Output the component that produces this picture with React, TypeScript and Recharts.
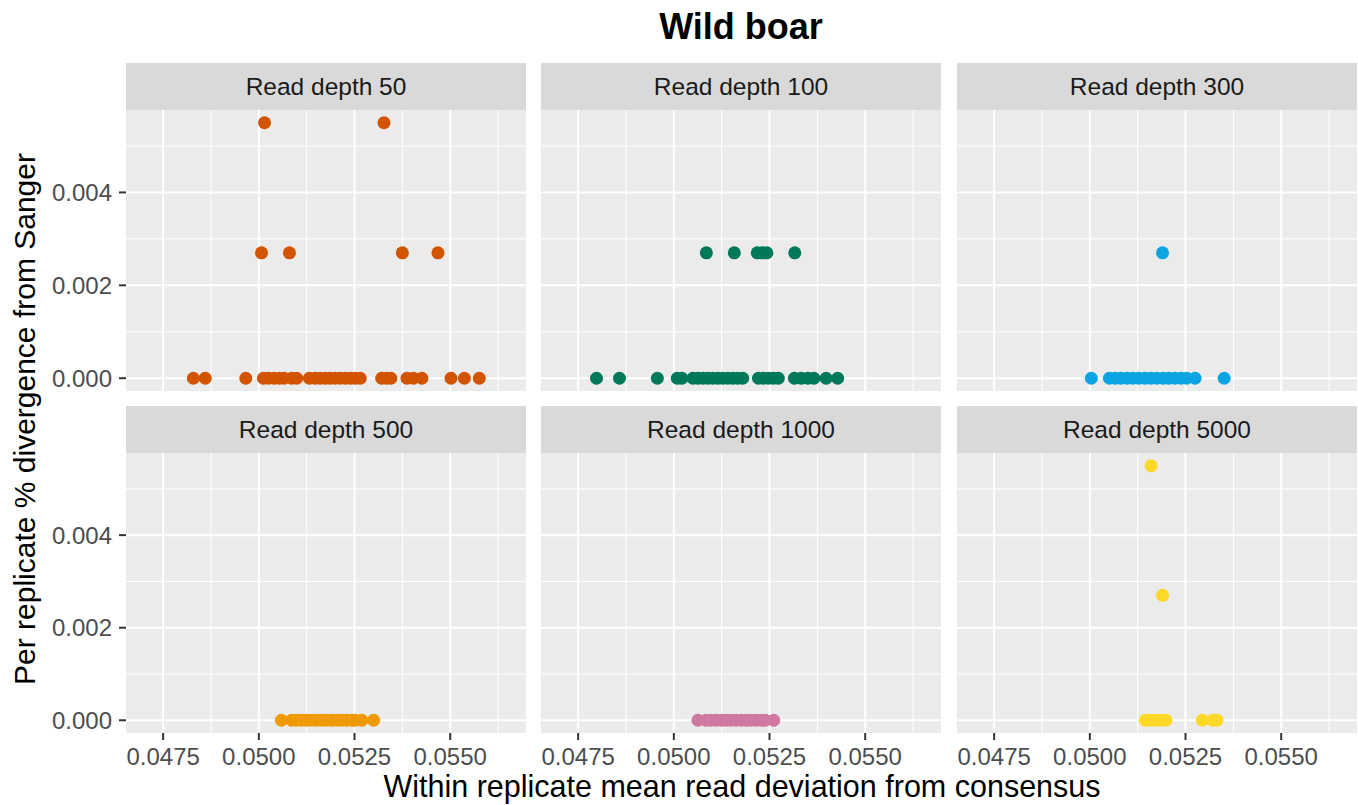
import { ScatterChart, Scatter, XAxis, YAxis, ReferenceLine, CartesianGrid } from "recharts";

const FONT = '"Liberation Sans", Arial, Helvetica, sans-serif';

// facet titles and colours
const depthLabels = ["Read depth 50", "Read depth 100", "Read depth 300", "Read depth 500", "Read depth 1000", "Read depth 5000"];
const depthColors = ["#D35400", "#00785A", "#0CA4E2", "#EE9A00", "#CF78A0", "#FDD827"];

// x = within replicate mean read deviation, y = per replicate % divergence
const rd50X = [
  0.05015, 0.05327, 0.05007, 0.0508, 0.05375, 0.05468,
  0.04829, 0.0486, 0.04966, 0.05012, 0.05025, 0.0504, 0.05054, 0.05066, 0.05086, 0.05099,
  0.05132, 0.05147, 0.0516, 0.05173, 0.05186, 0.05199, 0.05212, 0.05226, 0.05239, 0.05252,
  0.05265, 0.05321, 0.05334, 0.05345, 0.05387, 0.05404, 0.05426, 0.05502, 0.05537, 0.05576,
];
const rd50Y = [
  0.0055, 0.0055, 0.0027, 0.0027, 0.0027, 0.0027,
  0, 0, 0, 0, 0, 0, 0, 0, 0, 0, 0, 0, 0, 0, 0, 0, 0, 0, 0, 0, 0, 0, 0, 0, 0, 0, 0, 0, 0, 0,
];

const rd100X = [
  0.05085, 0.05158, 0.05218, 0.05231, 0.05243, 0.05316,
  0.04798, 0.04858, 0.04957, 0.05009, 0.05021, 0.0505, 0.05063, 0.05076, 0.05089, 0.05102,
  0.05115, 0.05128, 0.05141, 0.05154, 0.05167, 0.0518, 0.05221, 0.05234, 0.05247, 0.0526,
  0.05273, 0.05315, 0.05333, 0.0535, 0.05366, 0.05398, 0.05428,
];
const rd100Y = [
  0.0027, 0.0027, 0.0027, 0.0027, 0.0027, 0.0027,
  0, 0, 0, 0, 0, 0, 0, 0, 0, 0, 0, 0, 0, 0, 0, 0, 0, 0, 0, 0, 0, 0, 0, 0, 0, 0, 0,
];

const rd300X = [
  0.0519,
  0.05004, 0.05051, 0.05066, 0.05081, 0.05097, 0.05112, 0.05128, 0.05144, 0.05159,
  0.05175, 0.05191, 0.05206, 0.05222, 0.05238, 0.05253, 0.05275, 0.05351,
];
const rd300Y = [0.0027, 0, 0, 0, 0, 0, 0, 0, 0, 0, 0, 0, 0, 0, 0, 0, 0, 0];

const rd500X = [
  0.05059, 0.05086, 0.05099, 0.05112, 0.05125, 0.05138, 0.05151, 0.05165, 0.05178,
  0.05191, 0.05204, 0.05217, 0.0523, 0.05243, 0.05252, 0.05269, 0.053,
];
const rd500Y = [0, 0, 0, 0, 0, 0, 0, 0, 0, 0, 0, 0, 0, 0, 0, 0, 0];

const rd1000X = [
  0.05063, 0.05084, 0.05097, 0.05111, 0.05124, 0.05137, 0.0515, 0.05163,
  0.05176, 0.05189, 0.05202, 0.05215, 0.05228, 0.05239, 0.05261,
];
const rd1000Y = [0, 0, 0, 0, 0, 0, 0, 0, 0, 0, 0, 0, 0, 0, 0];

const rd5000X = [0.0516, 0.0519, 0.05145, 0.05158, 0.05171, 0.05184, 0.05199, 0.05294, 0.05321, 0.05332];
const rd5000Y = [0.0055, 0.0027, 0, 0, 0, 0, 0, 0, 0, 0];

const facetX = [rd50X, rd100X, rd300X, rd500X, rd1000X, rd5000X];
const facetY = [rd50Y, rd100Y, rd300Y, rd500Y, rd1000Y, rd5000Y];

// axes
const X_DOMAIN = [0.04653, 0.05698];
const Y_DOMAIN = [-0.000275, 0.005775];
const xMajor = [0.0475, 0.05, 0.0525, 0.055];
const xMinor = [0.04875, 0.05125, 0.05375, 0.05625];
const yMajor = [0, 0.002, 0.004];
const yMinor = [0.001, 0.003, 0.005];

// layout
const COL_LEFT = [126, 541, 957];
const PANEL_W = 400;
const STRIP_TOP = [63, 406];
const STRIP_H = 47;
const PANEL_TOP = [110, 453];
const PANEL_H = [281, 280];
const Y_AXIS_W = 126;
const X_AXIS_H = 50;

function Facet({ idx }: { idx: number }) {
  const col = idx % 3;
  const row = Math.floor(idx / 3);
  const showY = col === 0;
  const showX = row === 1;
  const left = COL_LEFT[col];
  const color = depthColors[idx];
  const points = facetX[idx].map((x, i) => ({ x, y: facetY[idx][i] }));

  return (
    <>
      <div
        style={{
          position: "absolute",
          left,
          top: STRIP_TOP[row],
          width: PANEL_W,
          height: STRIP_H,
          background: "#D9D9D9",
          color: "#1A1A1A",
          fontFamily: FONT,
          fontSize: 24.5,
          lineHeight: `${STRIP_H}px`,
          textAlign: "center",
        }}
      >
        {depthLabels[idx]}
      </div>
      <div style={{ position: "absolute", left: showY ? left - Y_AXIS_W : left, top: PANEL_TOP[row] }}>
        <ScatterChart
          width={PANEL_W + (showY ? Y_AXIS_W : 0)}
          height={PANEL_H[row] + (showX ? X_AXIS_H : 0)}
          margin={{ top: 0, right: 0, bottom: 0, left: 0 }}
        >
          <CartesianGrid fill="#EBEBEB" horizontal={false} vertical={false} />
          <XAxis
            type="number"
            dataKey="x"
            domain={X_DOMAIN}
            allowDataOverflow
            ticks={xMajor}
            interval={0}
            hide={!showX}
            height={X_AXIS_H}
            axisLine={false}
            tickLine={{ stroke: "#333333", strokeWidth: 2 }}
            tickSize={7}
            tickMargin={8}
            tick={{ fill: "#4D4D4D", fontSize: 24, fontFamily: FONT }}
            tickFormatter={(v: number) => v.toFixed(4)}
          />
          <YAxis
            type="number"
            dataKey="y"
            domain={Y_DOMAIN}
            allowDataOverflow
            ticks={yMajor}
            interval={0}
            hide={!showY}
            width={Y_AXIS_W}
            axisLine={false}
            tickLine={{ stroke: "#333333", strokeWidth: 2 }}
            tickSize={7}
            tickMargin={7}
            tick={{ fill: "#4D4D4D", fontSize: 24, fontFamily: FONT }}
            tickFormatter={(v: number) => v.toFixed(3)}
          />
          {yMinor.map((v) => (
            <ReferenceLine key={`ym${v}`} y={v} stroke="#FFFFFF" strokeWidth={1} zIndex={-50} />
          ))}
          {xMinor.map((v) => (
            <ReferenceLine key={`xm${v}`} x={v} stroke="#FFFFFF" strokeWidth={1} zIndex={-50} />
          ))}
          {yMajor.map((v) => (
            <ReferenceLine key={`yM${v}`} y={v} stroke="#FFFFFF" strokeWidth={2} zIndex={-40} />
          ))}
          {xMajor.map((v) => (
            <ReferenceLine key={`xM${v}`} x={v} stroke="#FFFFFF" strokeWidth={2} zIndex={-40} />
          ))}
          <Scatter
            data={points}
            isAnimationActive={false}
            shape={(p: any) => <circle cx={p.cx} cy={p.cy} r={6.5} fill={color} />}
          />
        </ScatterChart>
      </div>
    </>
  );
}

export default function App() {
  return (
    <div style={{ position: "relative", width: 1358, height: 805, background: "#FFFFFF", overflow: "hidden" }}>
      <style>{"body{margin:0}"}</style>
      {depthLabels.map((_, i) => (
        <Facet key={i} idx={i} />
      ))}
      <svg width={1358} height={805} style={{ position: "absolute", left: 0, top: 0, pointerEvents: "none" }}>
        <text x={741} y={39} textAnchor="middle" fontFamily={FONT} fontSize={36} fontWeight="bold" fill="#000">
          Wild boar
        </text>
        <text x={742} y={797} textAnchor="middle" fontFamily={FONT} fontSize={30.5} fill="#000">
          Within replicate mean read deviation from consensus
        </text>
        <text x={35} y={419} transform="rotate(-90 35 419)" textAnchor="middle" fontFamily={FONT} fontSize={30} fill="#000">
          Per replicate % divergence from Sanger
        </text>
      </svg>
    </div>
  );
}
